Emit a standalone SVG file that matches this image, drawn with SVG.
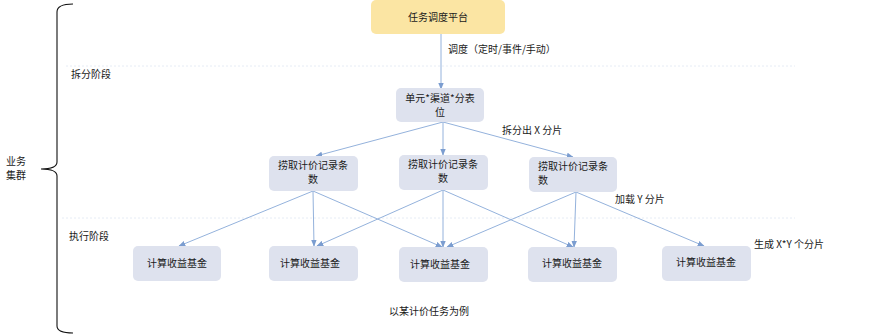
<svg xmlns="http://www.w3.org/2000/svg" width="875" height="336" viewBox="0 0 875 336">
<style>
text{font-family:"Noto Sans CJK SC","Liberation Sans",sans-serif;font-size:10px;fill:#1a1a1a}
.c{text-anchor:middle}
.node{fill:#dee2ee}
.top{fill:#fbe5a3}
.sep{stroke:#e6ecf5;stroke-width:1;stroke-dasharray:2 2;fill:none}
.edge{stroke:#94b2dc;stroke-width:1;fill:none;marker-end:url(#ah)}
.brace{stroke:#111;stroke-width:1.1;fill:none}
</style>
<defs>
<marker id="ah" viewBox="0 0 10 10" refX="9" refY="5" markerWidth="7" markerHeight="7" orient="auto" markerUnits="userSpaceOnUse">
<path d="M0,1 L10,5 L0,9 Z" fill="#7b9dd0"/>
</marker>
</defs>
<rect width="875" height="336" fill="#fff"/>
<line class="sep" x1="66" y1="66" x2="795" y2="66"/>
<line class="sep" x1="62" y1="218" x2="795" y2="218"/>
<path class="brace" d="M73,4 Q57,4 57,12 L57,162 Q57,169 41,169 Q57,169 57,176 L57,326 Q57,333 73,333"/>
<text x="6" y="165">业务</text>
<text x="6" y="179">集群</text>
<text x="71" y="78">拆分阶段</text>
<text x="69" y="240">执行阶段</text>
<g id="connectors">
<path class="edge" d="M441,34 L441,89"/>
<path class="edge" d="M443,122 L316,156"/>
<path class="edge" d="M443,122 L443,155"/>
<path class="edge" d="M443,122 L573,157"/>
<path class="edge" d="M313,191 L179,246"/>
<path class="edge" d="M313,191 L314,246"/>
<path class="edge" d="M313,191 L442,247"/>
<path class="edge" d="M443,190 L317,246"/>
<path class="edge" d="M443,190 L443,247"/>
<path class="edge" d="M443,190 L573,247"/>
<path class="edge" d="M576,192 L447,247"/>
<path class="edge" d="M576,192 L574,247"/>
<path class="edge" d="M576,192 L704,246"/>
</g>
<g id="n-top"><rect class="top" x="371" y="0" width="134" height="34" rx="5"/><text class="c" x="438" y="21">任务调度平台</text></g>
<text x="448" y="53">调度（定时/事件/手动）</text>
<g id="n-unit"><rect class="node" x="396" y="88" width="88" height="34" rx="5"/><text class="c" x="440" y="102">单元*渠道*分表</text><text class="c" x="440" y="116">位</text></g>
<text x="502" y="134">拆分出 X 分片</text>
<g id="n-a"><rect class="node" x="269" y="156" width="89" height="35" rx="5"/><text class="c" x="313" y="169">捞取计价记录条</text><text class="c" x="313" y="183">数</text></g>
<g id="n-b"><rect class="node" x="399" y="155" width="89" height="35" rx="5"/><text class="c" x="443" y="168">捞取计价记录条</text><text class="c" x="443" y="182">数</text></g>
<g id="n-c"><rect class="node" x="529" y="157" width="88" height="35" rx="5"/><text x="538" y="170">捞取计价记录条</text><text x="538" y="184">数</text></g>
<text x="615" y="203">加载 Y 分片</text>
<g id="n-1"><rect class="node" x="133" y="246" width="88" height="35" rx="5"/><text class="c" x="177" y="267">计算收益基金</text></g>
<g id="n-2"><rect class="node" x="269" y="246" width="89" height="35" rx="5"/><text class="c" x="310" y="267">计算收益基金</text></g>
<g id="n-3"><rect class="node" x="399" y="247" width="89" height="35" rx="5"/><text class="c" x="440" y="268">计算收益基金</text></g>
<g id="n-4"><rect class="node" x="528" y="247" width="89" height="35" rx="5"/><text class="c" x="572" y="267">计算收益基金</text></g>
<g id="n-5"><rect class="node" x="662" y="246" width="89" height="35" rx="5"/><text class="c" x="706" y="266">计算收益基金</text></g>
<text x="754" y="248">生成 X*Y 个分片</text>
<text x="389" y="315">以某计价任务为例</text>
</svg>
